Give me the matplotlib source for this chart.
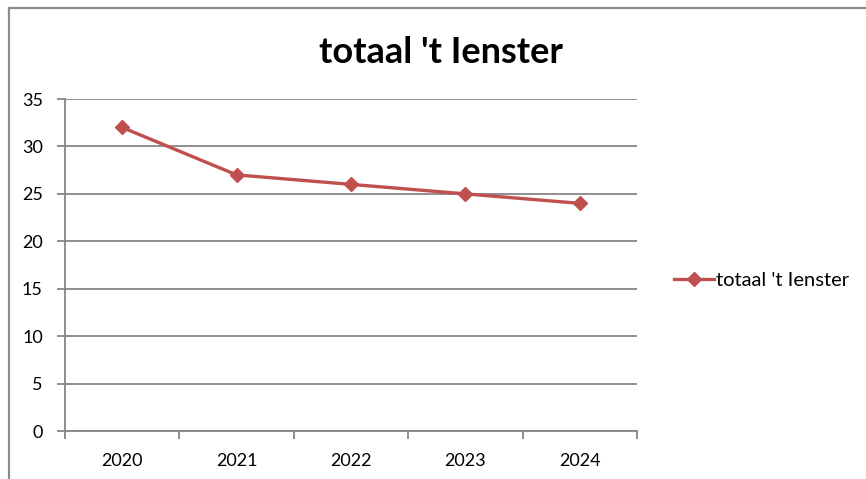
import matplotlib.pyplot as plt
from matplotlib.lines import Line2D

plt.rcParams['font.family'] = ['Lato', 'DejaVu Sans']

years = ["2020", "2021", "2022", "2023", "2024"]
totaal = [32, 27, 26, 25, 24]
series_name = "totaal 't Ienster"

line_color = "#C0504D"
grid_color = "#868686"

fig = plt.figure(figsize=(8.66, 4.79), dpi=100)
ax = fig.add_axes([0.0751, 0.1002, 0.6605, 0.6931])

x = list(range(len(years)))
ax.plot(x, totaal, color=line_color, linewidth=2.4, marker="D",
        markersize=7.5, markerfacecolor=line_color, markeredgecolor=line_color)

ax.set_xlim(-0.5, len(years) - 0.5)
ax.set_ylim(0, 35)
ax.set_yticks(range(0, 36, 5))
ax.yaxis.grid(True, color=grid_color, linewidth=1.3)
ax.set_axisbelow(True)

# category ticks on boundaries, labels in the middle
ax.set_xticks([i - 0.5 for i in range(len(years) + 1)])
ax.set_xticklabels([])
ax.set_xticks(x, minor=True)
ax.set_xticklabels(years, minor=True, fontsize=13)
ax.tick_params(axis="x", which="minor", length=0, pad=16)
ax.tick_params(axis="x", which="major", length=6, width=1.3, color=grid_color, direction="out")
ax.tick_params(axis="y", length=6, width=1.3, color=grid_color, labelsize=13, pad=10)

for side in ["top", "right"]:
    ax.spines[side].set_visible(False)
ax.spines["left"].set_color(grid_color)
ax.spines["bottom"].set_color(grid_color)
ax.spines["left"].set_linewidth(1.3)
ax.spines["bottom"].set_linewidth(1.3)

fig.text(0.509, 0.89, series_name, ha="center", va="center",
         fontsize=26, fontweight="bold")

handle = Line2D([], [], color=line_color, linewidth=2.4, marker="D",
                markersize=7.5)
fig.legend([handle], [series_name], loc="center left",
           bbox_to_anchor=(0.757, 0.415), frameon=False, fontsize=14.5,
           handlelength=2.0, handletextpad=0.1)

# chart border (top and left visible)
fig.add_artist(Line2D([0.0105, 0.0105], [0, 0.983], color="#8c8c8c", linewidth=1.6))
fig.add_artist(Line2D([0.0105, 1.0], [0.983, 0.983], color="#8c8c8c", linewidth=1.6))

fig.savefig("out.png", dpi=100)
